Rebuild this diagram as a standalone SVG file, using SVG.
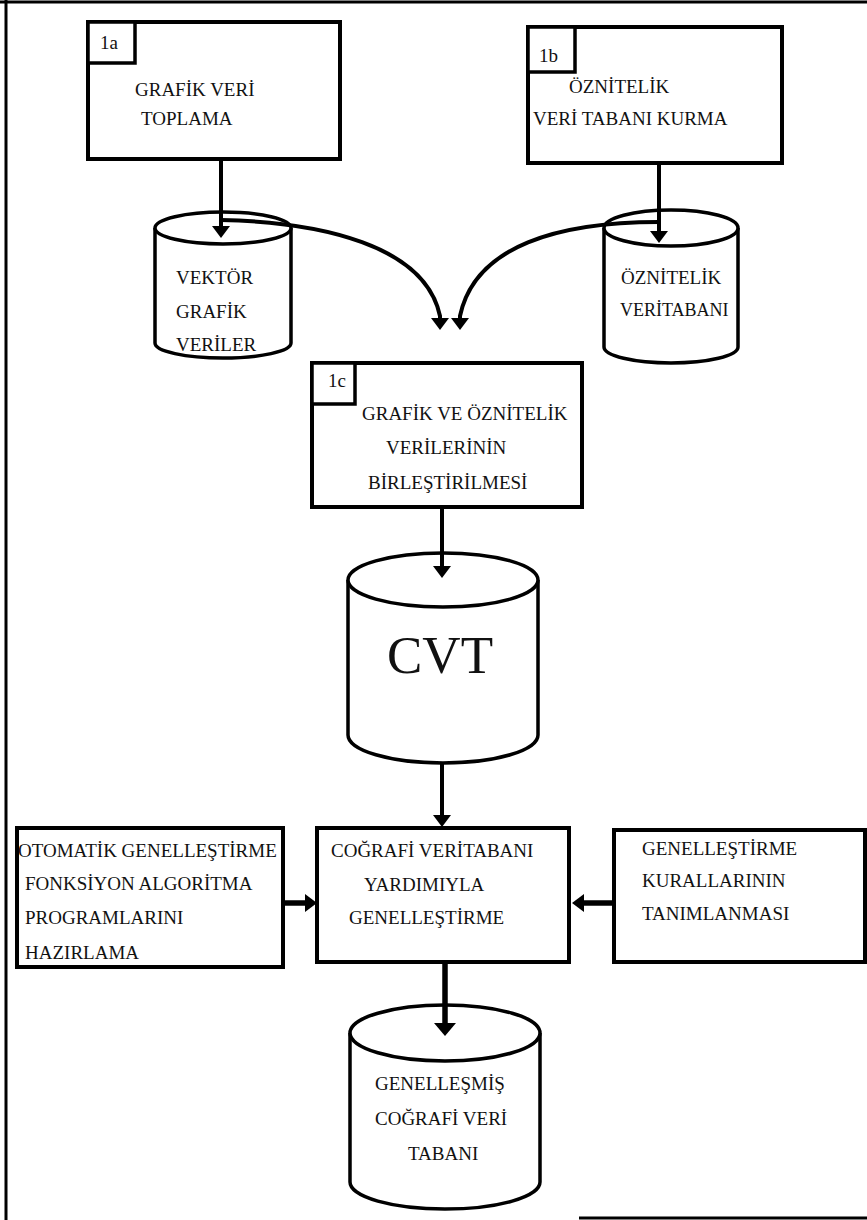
<svg xmlns="http://www.w3.org/2000/svg" width="867" height="1220" viewBox="0 0 867 1220">
<style>
  .box{fill:#fff;stroke:#000;stroke-width:4}
  .lbl{fill:#fff;stroke:#000;stroke-width:3.5}
  .cyl{fill:#fff;stroke:#000;stroke-width:3.5}
  .t{font-family:"Liberation Serif","Times New Roman",serif;font-size:19px;fill:#111}
  .big{font-family:"Liberation Serif","Times New Roman",serif;font-size:53px;fill:#111}
  .ln{fill:none;stroke:#000;stroke-width:4}
  .lnb{fill:none;stroke:#000;stroke-width:5.5}
  .frame{fill:none;stroke:#000;stroke-width:3}
</style>
<defs>
  <marker id="ah" viewBox="0 0 12 18" refX="8" refY="9" markerWidth="12" markerHeight="18" markerUnits="userSpaceOnUse" orient="auto">
    <path d="M0,0 L12,9 L0,18 z" fill="#000"/>
  </marker>
  <marker id="ahL" viewBox="0 0 13 22" refX="8" refY="11" markerWidth="13" markerHeight="22" markerUnits="userSpaceOnUse" orient="auto">
    <path d="M0,0 L13,11 L0,22 z" fill="#000"/>
  </marker>
</defs>
<rect width="867" height="1220" fill="#fff"/>
<g id="frame">
  <line class="frame" x1="6" y1="0" x2="6" y2="1220"/>
  <line class="frame" x1="0" y1="2" x2="867" y2="2"/>
  <line class="frame" x1="579" y1="1218" x2="867" y2="1218" stroke-width="2"/>
</g>
<g id="node-1a">
  <rect class="box" x="88" y="22" width="252" height="137"/>
  <rect class="lbl" x="88" y="22" width="47" height="41"/>
  <text class="t" x="100" y="49">1a</text>
  <text class="t" x="135" y="96">GRAFİK VERİ</text>
  <text class="t" x="141" y="125">TOPLAMA</text>
</g>
<g id="node-1b">
  <rect class="box" x="528" y="27" width="254" height="136"/>
  <rect class="lbl" x="528" y="27" width="47" height="45"/>
  <text class="t" x="539" y="62">1b</text>
  <text class="t" x="569" y="93">ÖZNİTELİK</text>
  <text class="t" x="533" y="125">VERİ TABANI KURMA</text>
</g>
<g id="node-vektor">
  <path class="cyl" d="M155,228 L155,343 A68,15 0 0 0 291,343 L291,228"/>
  <ellipse class="cyl" cx="223" cy="228" rx="68" ry="16"/>
  <text class="t" x="176" y="284">VEKTÖR</text>
  <text class="t" x="176" y="318">GRAFİK</text>
  <text class="t" x="176" y="351">VERİLER</text>
</g>
<g id="node-oznitelik">
  <path class="cyl" d="M604,228 L604,347 A67,16 0 0 0 738,347 L738,228"/>
  <ellipse class="cyl" cx="671" cy="228" rx="67" ry="18"/>
  <text class="t" x="621" y="284" font-size="18">ÖZNİTELİK</text>
  <text class="t" x="620" y="316" font-size="18" style="font-size:18px">VERİTABANI</text>
</g>
<g id="node-1c">
  <rect class="box" x="312" y="363" width="270" height="144"/>
  <rect class="lbl" x="312" y="363" width="43" height="41"/>
  <text class="t" x="328" y="387">1c</text>
  <text class="t" x="362" y="420">GRAFİK VE ÖZNİTELİK</text>
  <text class="t" x="386" y="454">VERİLERİNİN</text>
  <text class="t" x="368" y="489">BİRLEŞTİRİLMESİ</text>
</g>
<g id="node-cvt">
  <path class="cyl" d="M348,580 L348,735 A95,28 0 0 0 538,735 L538,580"/>
  <ellipse class="cyl" cx="443" cy="580" rx="95" ry="27"/>
  <text class="big" x="440" y="673" text-anchor="middle">CVT</text>
</g>
<g id="node-otomatik">
  <rect class="box" x="17" y="828" width="266" height="139"/>
  <text class="t" x="18" y="857">OTOMATİK GENELLEŞTİRME</text>
  <text class="t" x="25" y="890">FONKSİYON ALGORİTMA</text>
  <text class="t" x="25" y="924">PROGRAMLARINI</text>
  <text class="t" x="25" y="959">HAZIRLAMA</text>
</g>
<g id="node-genellestirme">
  <rect class="box" x="317" y="828" width="252" height="134"/>
  <text class="t" x="331" y="857">COĞRAFİ  VERİTABANI</text>
  <text class="t" x="364" y="891">YARDIMIYLA</text>
  <text class="t" x="349" y="924">GENELLEŞTİRME</text>
</g>
<g id="node-kurallar">
  <rect class="box" x="614" y="830" width="251" height="132"/>
  <text class="t" x="642" y="855">GENELLEŞTİRME</text>
  <text class="t" x="642" y="887">KURALLARININ</text>
  <text class="t" x="642" y="920">TANIMLANMASI</text>
</g>
<g id="node-genellesmis">
  <path class="cyl" d="M350,1033 L350,1182 A95,27 0 0 0 540,1182 L540,1033"/>
  <ellipse class="cyl" cx="445" cy="1033" rx="95" ry="28"/>
  <text class="t" x="375" y="1090">GENELLEŞMİŞ</text>
  <text class="t" x="375" y="1125">COĞRAFİ VERİ</text>
  <text class="t" x="408" y="1160">TABANI</text>
</g>
<g id="connectors">
  <path class="ln" d="M221,159 L221,234" marker-end="url(#ah)"/>
  <path class="ln" d="M659,163 L659,239" marker-end="url(#ah)"/>
  <path class="ln" d="M221,220 C320,222 425,245 440,316 L440,326" marker-end="url(#ah)"/>
  <path class="ln" d="M659,222 C560,222 475,245 460,316 L460,326" marker-end="url(#ah)"/>
  <path class="ln" d="M442,507 L442,574" marker-end="url(#ah)"/>
  <path class="ln" d="M442,763 L442,823" marker-end="url(#ah)"/>
  <path class="lnb" d="M445,962 L445,1031" marker-end="url(#ahL)"/>
  <path class="lnb" d="M283,903 L313,903" marker-end="url(#ah)"/>
  <path class="lnb" d="M614,903 L576,903" marker-end="url(#ah)"/>
</g>
</svg>
